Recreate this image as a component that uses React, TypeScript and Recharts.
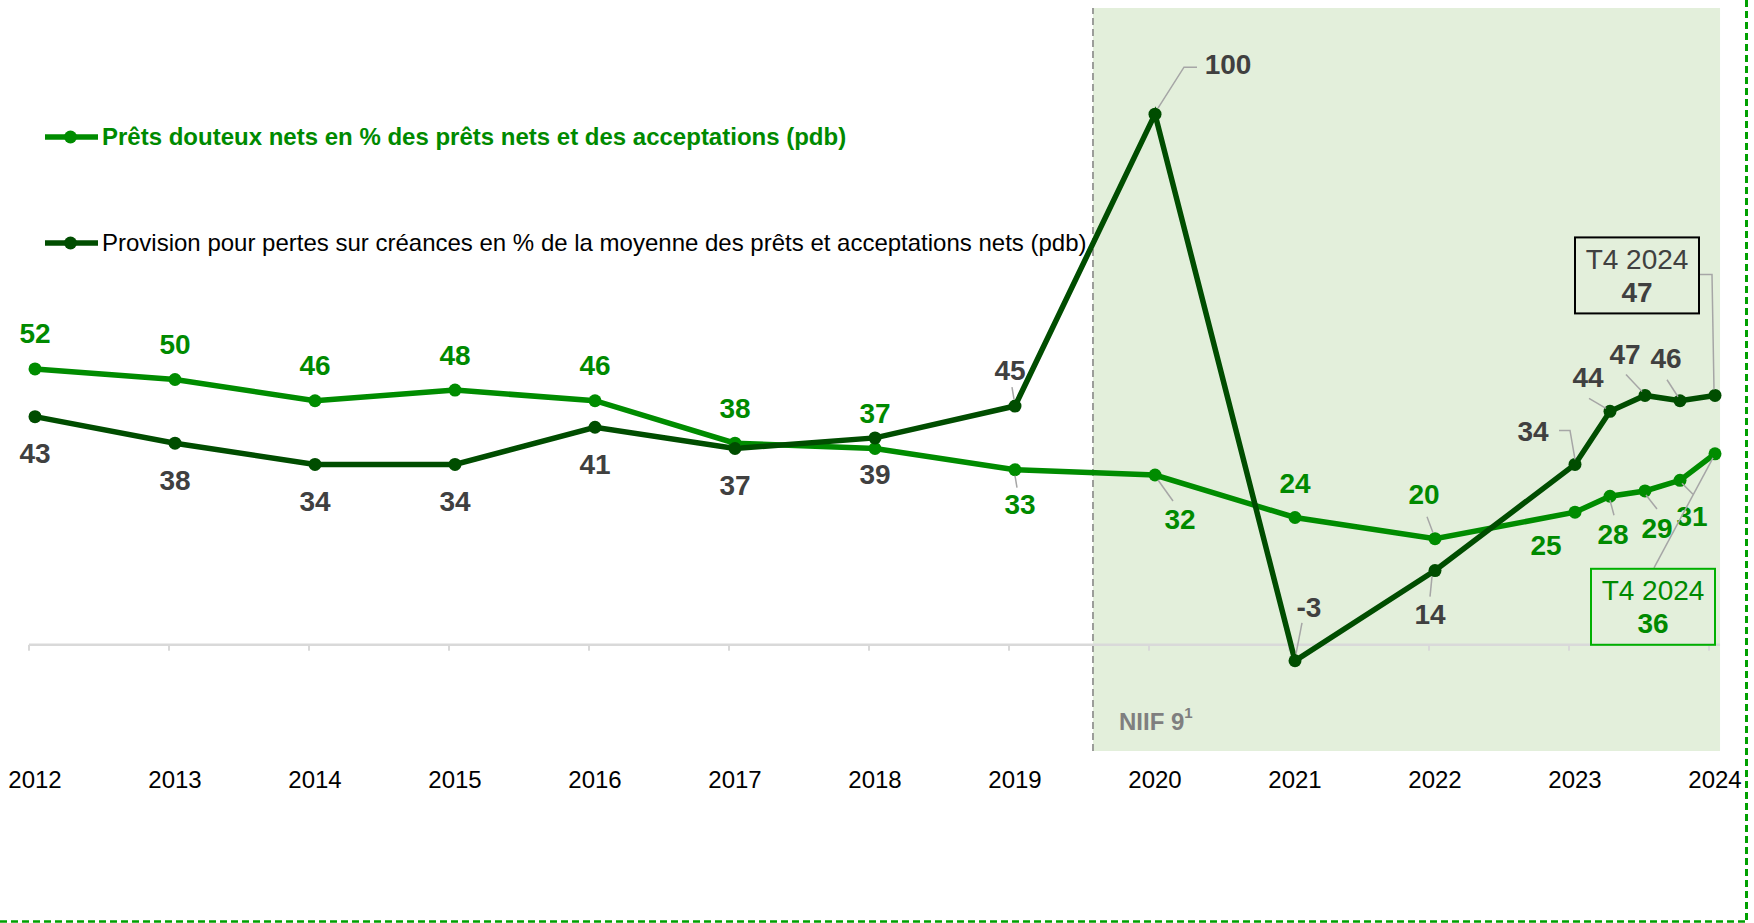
import React from 'react';
import {
  LineChart,
  Line,
  XAxis,
  YAxis,
  ReferenceArea,
  ReferenceLine,
  LabelList,
  Legend,
} from 'recharts';

// x positions: yearly to 2023, then the four quarters of 2024
const periods = [2012, 2013, 2014, 2015, 2016, 2017, 2018, 2019, 2020, 2021, 2022, 2023, 2023.25, 2023.5, 2023.75, 2024];
const yearTicks = [2012, 2013, 2014, 2015, 2016, 2017, 2018, 2019, 2020, 2021, 2022, 2023, 2024];
const impairedLoans = [52, 50, 46, 48, 46, 38, 37, 33, 32, 24, 20, 25, 28, 29, 31, 36];
const loanLossProvision = [43, 38, 34, 34, 41, 37, 39, 45, 100, -3, 14, 34, 44, 47, 46, 47];

const impairedName = 'Prêts douteux nets en % des prêts nets et des acceptations (pdb)';
const provisionName = 'Provision pour pertes sur créances en % de la moyenne des prêts et acceptations nets (pdb)';
const lastQuarterTag = 'T4 2024';
const ifrsStart = 2019.557;
const ifrsEnd = 2024.036;

const data = periods.map((period, i) => ({
  period,
  impaired: impairedLoans[i],
  provision: loanLossProvision[i],
}));

const FONT = '"Liberation Sans", Arial, sans-serif';
const GREEN = '#008c00';
const DARK = '#004d00';
const GREY_TEXT = '#404040';
const LEADER = '#a6a6a6';

type Pos = { dx: number; dy: number; leader?: number[][]; box?: boolean };

// label placement relative to each point (px)
const up: Pos = { dx: 0, dy: -35 };
const down: Pos = { dx: 0, dy: 37 };
const greenLabelPos: Pos[] = [
  up, up, up, up, up, up, up,
  { dx: 5, dy: 35, leader: [[0, 6], [2, 18]] },
  { dx: 25, dy: 44, leader: [[3, 5], [18, 26]] },
  { dx: 0, dy: -34 },
  { dx: -11, dy: -44, leader: [[-8, -22], [-2, -6]] },
  { dx: -29, dy: 33 },
  { dx: 3, dy: 38, leader: [[0, 4], [4, 19]] },
  { dx: 12, dy: 38, leader: [[1, 4], [12, 18]] },
  { dx: 12, dy: 36, leader: [[2, 3], [13, 14]] },
  { dx: -62, dy: 153, box: true, leader: [[-2, 4], [-61, 114]] },
];
const darkLabelPos: Pos[] = [
  down, down, down, down, down, down, down,
  { dx: -5, dy: -36, leader: [[-3, -19], [-1, -7]] },
  { dx: 73, dy: -50, leader: [[3, -6], [29, -47], [42, -47]] },
  { dx: 14, dy: -53, leader: [[7, -38], [1, -7]] },
  { dx: -5, dy: 44, leader: [[-3, 6], [-5, 26]] },
  { dx: -42, dy: -33, leader: [[-16, -34], [-5, -34], [0, -5]] },
  { dx: -22, dy: -34, leader: [[-21, -13], [-4, -3]] },
  { dx: -20, dy: -41, leader: [[-19, -21], [-3, -4]] },
  { dx: -14, dy: -42, leader: [[-13, -21], [-2, -4]] },
  { dx: -78, dy: -120, box: true, leader: [[-16, -121], [-3, -121], [-1, -6]] },
];

function makeLabel(layout: Pos[], color: string, boxColor: string) {
  return (props: any) => {
    const { x, y, value, index } = props;
    const pos = layout[index];
    if (!pos || x == null || y == null) return null;
    const cx = x + pos.dx;
    const cy = y + pos.dy;
    const leader = pos.leader
      ? <polyline
          points={pos.leader.map(([a, b]) => `${x + a},${y + b}`).join(' ')}
          fill="none"
          stroke={LEADER}
          strokeWidth={1.5}
        />
      : null;
    if (pos.box) {
      return (
        <g>
          {leader}
          <rect x={cx - 62} y={cy - 38} width={124} height={76} fill="none" stroke={boxColor} strokeWidth={2} />
          <text x={cx} y={cy - 16} textAnchor="middle" dominantBaseline="central" fontSize={28} fill={color} fontFamily={FONT}>
            {lastQuarterTag}
          </text>
          <text x={cx} y={cy + 17} textAnchor="middle" dominantBaseline="central" fontSize={28} fontWeight="bold" fill={color} fontFamily={FONT}>
            {value}
          </text>
        </g>
      );
    }
    return (
      <g>
        {leader}
        <text x={cx} y={cy} textAnchor="middle" dominantBaseline="central" fontSize={28} fontWeight="bold" fill={color} fontFamily={FONT}>
          {value}
        </text>
      </g>
    );
  };
}

const YearTick = (props: any) => {
  const { x, y, payload } = props;
  return (
    <text x={x} y={y} dy={28} textAnchor="middle" dominantBaseline="central" fontSize={24} fill="#000" fontFamily={FONT}>
      {payload.value}
    </text>
  );
};

const NiifLabel = (props: any) => {
  const { viewBox } = props;
  if (!viewBox) return null;
  return (
    <text x={viewBox.x + 26} y={viewBox.y + viewBox.height - 30} dominantBaseline="central" fontSize={24} fontWeight="bold" fill="#7f7f7f" fontFamily={FONT}>
      NIIF 9<tspan fontSize={15} dy={-9}>1</tspan>
    </text>
  );
};

const renderLegend = (props: any) => {
  const entries = [...(props.payload || [])].sort(
    (a: any, b: any) => (a.dataKey === 'impaired' ? 0 : 1) - (b.dataKey === 'impaired' ? 0 : 1)
  );
  return (
    <div style={{ fontFamily: FONT }}>
      {entries.map((entry: any, i: number) => {
        const bold = entry.dataKey === 'impaired';
        return (
          <div key={i} style={{ display: 'flex', alignItems: 'center', height: 30, marginTop: i === 0 ? 0 : 76 }}>
            <svg width={57} height={20} style={{ flex: 'none' }}>
              <line x1={0} y1={10} x2={53} y2={10} stroke={entry.color} strokeWidth={5.5} />
              <circle cx={25.5} cy={10} r={6.5} fill={entry.color} />
            </svg>
            <span style={{ fontSize: 24, whiteSpace: 'nowrap', fontWeight: bold ? 'bold' : 'normal', color: bold ? '#008a00' : '#000' }}>
              {entry.value}
            </span>
          </div>
        );
      })}
    </div>
  );
};

export default function App() {
  return (
    <div style={{ position: 'absolute', left: 0, top: 0, width: 1754, height: 923, background: '#fff', fontFamily: FONT }}>
      <LineChart
        width={1754}
        height={923}
        data={data}
        margin={{ top: 8, right: 39, left: 35, bottom: 132 }}
      >
        <ReferenceArea
          x1={ifrsStart}
          x2={ifrsEnd}
          fill="#e3efdb"
          fillOpacity={1}
          stroke="none"
          ifOverflow="visible"
          label={<NiifLabel />}
        />
        <ReferenceLine x={ifrsStart} stroke="#808080" strokeWidth={1.5} strokeDasharray="7 4" ifOverflow="visible" />
        <ReferenceLine
          segment={[{ x: 2011.957, y: 0 }, { x: ifrsEnd, y: 0 }]}
          stroke="#d9d9d9"
          strokeWidth={2.5}
          ifOverflow="visible"
        />
        {yearTicks.map((t) => (
          <ReferenceLine
            key={t}
            segment={[{ x: t - 0.043, y: 0 }, { x: t - 0.043, y: -1.1 }]}
            stroke="#d9d9d9"
            strokeWidth={2}
            ifOverflow="visible"
          />
        ))}
        <XAxis
          type="number"
          dataKey="period"
          domain={[2012, 2024]}
          ticks={yearTicks}
          interval={0}
          axisLine={false}
          tickLine={false}
          tickSize={0}
          tickMargin={0}
          height={40}
          tick={<YearTick />}
        />
        <YAxis hide type="number" domain={[-20, 120]} allowDataOverflow />
        <Legend
          layout="vertical"
          align="center"
          verticalAlign="middle"
          wrapperStyle={{ top: 122, left: 45, width: 1150 }}
          content={renderLegend}
        />
        <Line
          type="linear"
          dataKey="impaired"
          name={impairedName}
          stroke={GREEN}
          strokeWidth={5.5}
          dot={{ r: 6.5, fill: GREEN, stroke: 'none' }}
          activeDot={false}
          isAnimationActive={false}
        >
          <LabelList dataKey="impaired" content={makeLabel(greenLabelPos, '#008a00', '#00b000')} />
        </Line>
        <Line
          type="linear"
          dataKey="provision"
          name={provisionName}
          stroke={DARK}
          strokeWidth={5.5}
          dot={{ r: 6.5, fill: DARK, stroke: 'none' }}
          activeDot={false}
          isAnimationActive={false}
        >
          <LabelList dataKey="provision" content={makeLabel(darkLabelPos, GREY_TEXT, '#000')} />
        </Line>
      </LineChart>
      <svg width={1754} height={923} style={{ position: 'absolute', left: 0, top: 0, pointerEvents: 'none' }}>
        <line x1={1746.5} y1={0} x2={1746.5} y2={921.5} stroke="#00a000" strokeWidth={3} strokeDasharray="7 4" />
        <line x1={0} y1={921.5} x2={1748} y2={921.5} stroke="#00a000" strokeWidth={2.5} strokeDasharray="7 4" />
      </svg>
    </div>
  );
}
